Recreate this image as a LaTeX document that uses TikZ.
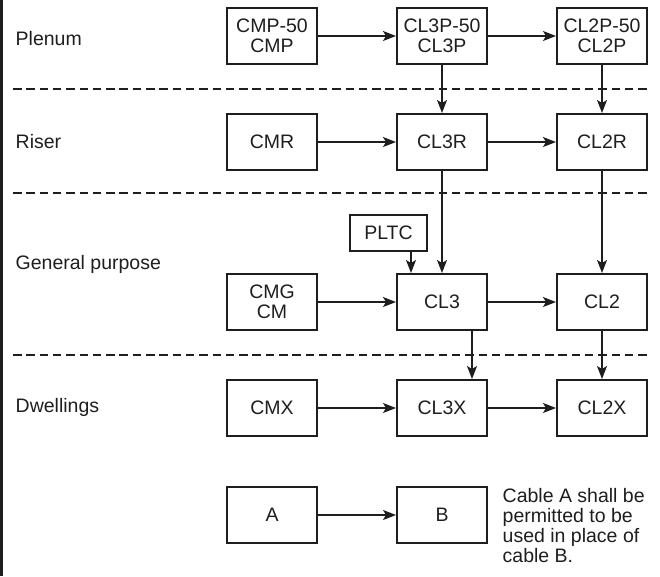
\documentclass[tikz,border=0pt]{standalone}
\usepackage{fontspec}
\setmainfont{Liberation Sans}
\usetikzlibrary{arrows.meta}
\definecolor{inkline}{HTML}{1E1E1E}

\begin{document}
\begin{tikzpicture}[x=1pt,y=-1pt,line width=1.4pt,color=inkline,
 font=\fontsize{19.5}{20}\selectfont,
 cablebox/.style={draw,line width=2pt,minimum width=90pt,minimum height=56pt,inner sep=0pt,align=center,text depth=-5pt},
 feed/.style={line width=1.4pt,-{Stealth[length=13pt,width=10pt,inset=3pt]}},
 zoneline/.style={dash pattern=on 8.5pt off 4.8pt,line width=1.6pt}]
\useasboundingbox (0,0) rectangle (660,576);
\fill (0,0) rectangle (3,576);
\foreach \yy in {89,193,355}
 \draw[zoneline] (13,\yy)--(648,\yy);
\foreach \nm/\yy/\lab in {plenum/45/Plenum,riser/148/Riser,general/269/General purpose,dwell/412/Dwellings}
 \node[anchor=base west,inner sep=0pt] (\nm) at (15,\yy) {\lab};
% cable boxes, one row per zone
\foreach \nm/\xx/\yy/\txt in {cmp/272/36/{CMP-50\\CMP},cl3p/442/36/{CL3P-50\\CL3P},cl2p/602/36/{CL2P-50\\CL2P},
 cmr/272/142/CMR,cl3r/442/142/CL3R,cl2r/602/142/CL2R,
 cmg/272/302/{CMG\\CM},cl3/442/302/CL3,cl2/602/302/CL2,
 cmx/272/408/CMX,cl3x/442/408/CL3X,cl2x/602/408/CL2X,
 caba/272/515/A,cabb/442/515/B}
 \node[cablebox] (\nm) at (\xx,\yy) {\txt};
\node[cablebox,minimum width=77pt,minimum height=36pt] (pltc) at (388.5,233) {PLTC};
\foreach \from/\to in {cmp/cl3p,cl3p/cl2p,cmr/cl3r,cl3r/cl2r,cmg/cl3,cl3/cl2,cmx/cl3x,cl3x/cl2x,caba/cabb,
 cl3p/cl3r,cl3r/cl3,cl2p/cl2r,cl2r/cl2,cl2/cl2x}
 \draw[feed] (\from)--(\to);
\draw[feed] ([xshift=22.5pt]pltc.south)--([xshift=-31pt]cl3.north);
\draw[feed] ([xshift=30pt]cl3.south)--([xshift=30pt]cl3x.north);
\node[anchor=north west,align=left,inner sep=0pt] (note) at (502,488)
 {Cable A shall be\\permitted to be\\used in place of\\cable B.};
\end{tikzpicture}
\end{document}
